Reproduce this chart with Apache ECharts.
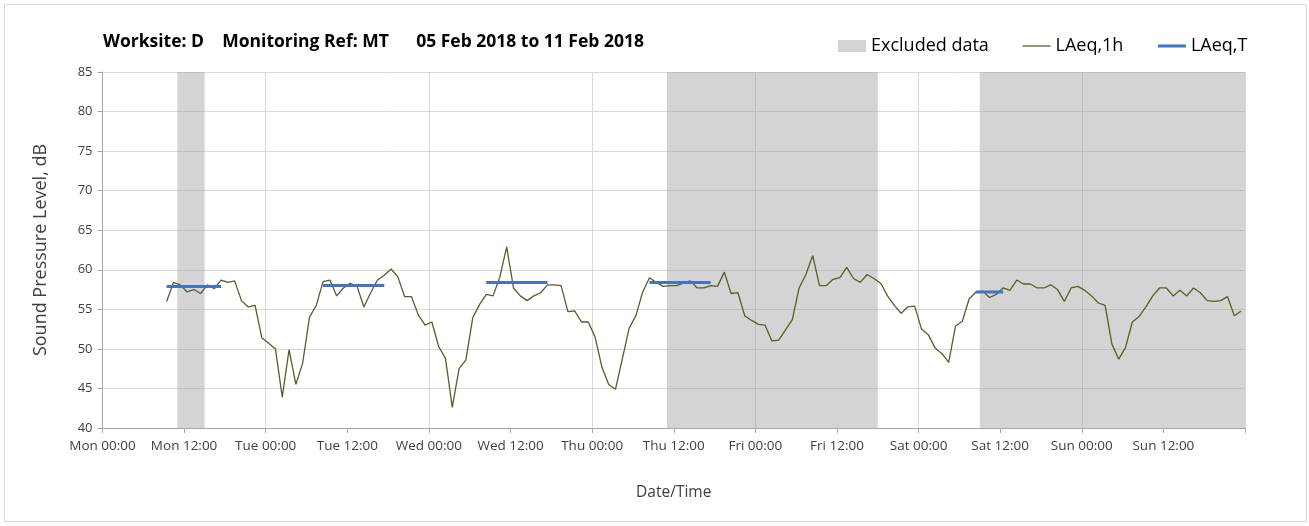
<!DOCTYPE html>
<html>
<head>
<meta charset="utf-8">
<title>Worksite D - MT</title>
<script src="https://cdn.jsdelivr.net/npm/echarts@6/dist/echarts.min.js"></script>
<style>
    html, body {margin: 0; padding: 0; background: #fff;}
    #chart {width: 1309px; height: 526px;}
</style>
</head>
<body>
<div id="chart"></div>
<script>
// hourly LAeq values, first one at Mon 09:26
var startHour = 9 + 26 / 60;
var laeq1h = [
    56.0, 58.4, 58.1, 57.2, 57.5, 57.0, 58.1, 57.6, 58.7, 58.4,
    58.6, 56.1, 55.3, 55.5, 51.4, 50.7, 50.0, 43.9, 49.9, 45.5,
    48.2, 54.0, 55.5, 58.5, 58.7, 56.7, 57.7, 58.3, 57.9, 55.3,
    57.1, 58.7, 59.3, 60.1, 59.1, 56.6, 56.6, 54.3, 53.0, 53.4,
    50.3, 48.8, 42.6, 47.5, 48.6, 53.9, 55.6, 56.9, 56.7, 59.1,
    62.9, 57.7, 56.7, 56.1, 56.7, 57.1, 58.1, 58.1, 58.0, 54.7,
    54.8, 53.4, 53.4, 51.5, 47.7, 45.5, 44.9, 48.7, 52.6, 54.2,
    57.2, 59.0, 58.4, 57.9, 58.0, 58.0, 58.3, 58.6, 57.7, 57.7,
    58.0, 57.9, 59.7, 57.0, 57.1, 54.2, 53.6, 53.1, 53.0, 51.0,
    51.1, 52.4, 53.7, 57.7, 59.4, 61.8, 58.0, 58.0, 58.8, 59.0,
    60.3, 58.9, 58.4, 59.4, 58.9, 58.3, 56.7, 55.5, 54.5, 55.3,
    55.4, 52.5, 51.8, 50.1, 49.4, 48.3, 52.9, 53.5, 56.3, 57.2,
    57.3, 56.5, 56.9, 57.7, 57.4, 58.7, 58.2, 58.2, 57.7, 57.7,
    58.1, 57.5, 56.0, 57.7, 57.9, 57.4, 56.7, 55.8, 55.5, 50.6,
    48.7, 50.2, 53.4, 54.1, 55.3, 56.7, 57.7, 57.7, 56.7, 57.4,
    56.7, 57.7, 57.1, 56.1, 56.0, 56.1, 56.6, 54.2, 54.8
];

// LAeq,T periods: [from hour, to hour, level]
var laeqT = [
    [9.43, 17.43, 57.9],
    [32.43, 41.43, 58.0],
    [56.43, 65.43, 58.4],
    [80.43, 89.43, 58.4],
    [128.43, 132.43, 57.2]
];

// excluded periods, hours from Mon 00:00
var excluded = [[11, 15], [83, 114], [129, 168]];

var dayNames = ['Mon', 'Tue', 'Wed', 'Thu', 'Fri', 'Sat', 'Sun'];

var font = '"Open Sans", Lato, sans-serif';

var lineData = [];
for (var i = 0; i < laeq1h.length; i++) {
    lineData.push([startHour + i, laeq1h[i]]);
}

var tData = [];
laeqT.forEach(function (p) {
    tData.push([p[0], p[2]]);
    tData.push([p[1], p[2]]);
    tData.push([p[1] + 0.01, '-']);
});

var areas = excluded.map(function (e) {
    return [{xAxis: e[0]}, {xAxis: e[1]}];
});

var chart = echarts.init(document.getElementById('chart'));
chart.setOption({
    animation: false,
    textStyle: {fontFamily: font},
    title: {
        text: 'Worksite: D    Monitoring Ref: MT      05 Feb 2018 to 11 Feb 2018',
        left: 98,
        top: 28,
        textStyle: {fontSize: 17.5, fontWeight: 'bold', color: '#000', fontFamily: font}
    },
    legend: {
        left: 833,
        top: 32,
        itemWidth: 28,
        itemHeight: 12,
        itemGap: 33,
        textStyle: {fontSize: 18, color: '#000', fontFamily: font},
        data: [
            {name: 'Excluded data', icon: 'rect'},
            {name: 'LAeq,1h', itemStyle: {opacity: 0}, lineStyle: {width: 1.3}},
            {name: 'LAeq,T', itemStyle: {opacity: 0}, lineStyle: {width: 3}}
        ]
    },
    graphic: [{
        type: 'rect',
        shape: {x: 4.5, y: 4.5, width: 1302, height: 517},
        style: {fill: 'none', stroke: '#d9d9d9', lineWidth: 1},
        silent: true,
        z: -10
    }],
    grid: {left: 102.5, right: 64, top: 72, bottom: 98},
    xAxis: [{
        type: 'value',
        min: 0,
        max: 168,
        interval: 12,
        name: 'Date/Time',
        nameLocation: 'middle',
        nameGap: 57,
        nameTextStyle: {fontSize: 15.5, color: '#404040'},
        axisLine: {lineStyle: {color: '#a6a6a6'}},
        axisTick: {show: true, length: 5, lineStyle: {color: '#a6a6a6'}},
        splitLine: {show: false},
        axisLabel: {
            fontSize: 13.5,
            color: '#404040',
            margin: 11,
            formatter: function (v) {
                if (v >= 168) return '';
                return dayNames[Math.floor(v / 24)] + ' ' + (v % 24 === 0 ? '00:00' : '12:00');
            }
        }
    }, {
        type: 'value',
        min: 0,
        max: 168,
        interval: 24,
        position: 'bottom',
        axisLine: {show: false},
        axisTick: {show: false},
        axisLabel: {show: false},
        splitLine: {show: true, lineStyle: {color: '#d9d9d9', width: 1}}
    }],
    yAxis: {
        type: 'value',
        min: 40,
        max: 85,
        interval: 5,
        name: 'Sound Pressure Level, dB',
        nameLocation: 'middle',
        nameGap: 53,
        nameTextStyle: {fontSize: 18, color: '#404040'},
        axisLine: {show: true, lineStyle: {color: '#a6a6a6'}},
        axisTick: {show: true, length: 5, lineStyle: {color: '#a6a6a6'}},
        splitLine: {lineStyle: {color: '#d9d9d9', width: 1}},
        axisLabel: {fontSize: 13, color: '#404040', margin: 10}
    },
    series: [
        {
            name: 'Excluded data',
            type: 'line',
            color: '#d4d4d4',
            data: [],
            markArea: {
                silent: true,
                itemStyle: {color: 'rgba(160,160,160,0.45)'},
                data: areas
            }
        },
        {
            name: 'LAeq,1h',
            type: 'line',
            color: '#4f6228',
            symbol: 'none',
            lineStyle: {width: 1.3},
            data: lineData
        },
        {
            name: 'LAeq,T',
            type: 'line',
            color: '#4472c4',
            symbol: 'none',
            lineStyle: {width: 3},
            connectNulls: false,
            data: tData
        }
    ]
});
</script>
</body>
</html>
